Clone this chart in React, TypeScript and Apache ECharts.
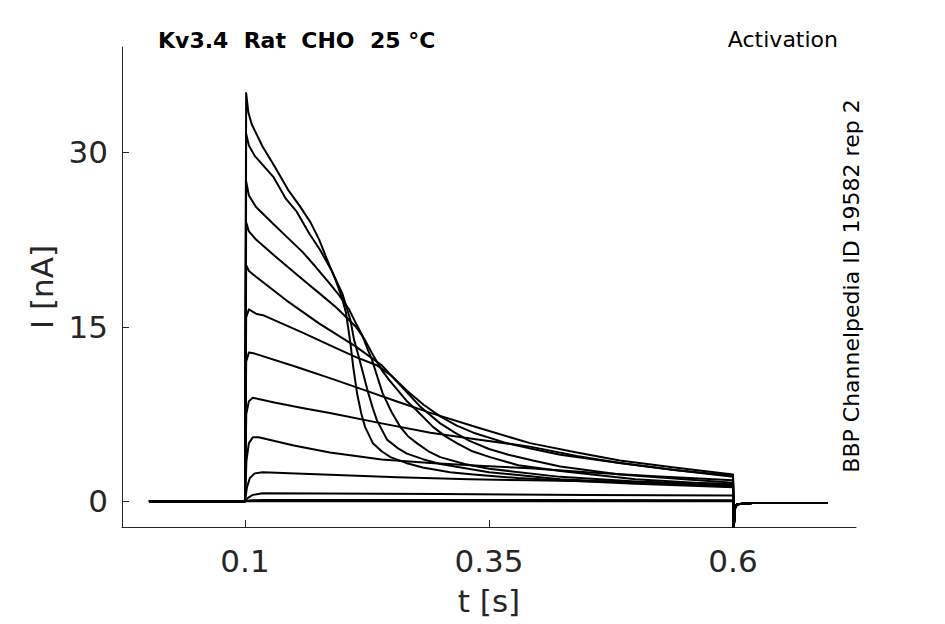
import { useEffect, useRef } from "react";
import * as echarts from "echarts";

type Pt = [number, number];

// t [s], I [nA], largest peak first
const baseline: Pt[] = [[0.0016, 0], [0.1, 0]];
const tailAfterStep: Pt[] = [[0.6008, -2.2], [0.602, -0.6], [0.604, -0.25], [0.62, -0.15], [0.697, -0.15]];

const trace1: Pt[] = [[0.1012, 35.1], [0.1035, 33.4], [0.107, 32.4], [0.118, 30.5], [0.131, 28.7], [0.144, 26.8], [0.156, 25.4], [0.167, 24.0], [0.176, 22.5], [0.184, 20.8], [0.193, 19.0], [0.199, 17.6], [0.2035, 16.2], [0.208, 13.6], [0.211, 11.5], [0.215, 9.2], [0.219, 7.6], [0.223, 6.4], [0.231, 5.0], [0.24, 4.3], [0.249, 3.8], [0.265, 3.3], [0.282, 2.9], [0.31, 2.5], [0.334, 2.3], [0.38, 2.0], [0.423, 1.8], [0.5, 1.5], [0.55, 1.35], [0.6, 1.2]];
const trace2: Pt[] = [[0.1012, 31.6], [0.104, 30.6], [0.11, 29.7], [0.129, 27.9], [0.142, 26.0], [0.153, 24.9], [0.166, 23.0], [0.177, 21.6], [0.189, 19.8], [0.2, 17.8], [0.208, 15.6], [0.2117, 13.9], [0.216, 12.6], [0.221, 11.0], [0.226, 9.4], [0.231, 8.0], [0.235, 7.0], [0.2455, 5.3], [0.256, 4.6], [0.266, 4.1], [0.283, 3.6], [0.3, 3.2], [0.35, 2.5], [0.423, 1.9], [0.5, 1.6], [0.6, 1.3]];
const trace3: Pt[] = [[0.1012, 27.5], [0.104, 26.3], [0.1113, 25.3], [0.1246, 24.2], [0.142, 22.8], [0.1594, 21.4], [0.173, 20.1], [0.186, 18.8], [0.1966, 17.7], [0.2066, 16.5], [0.2137, 15.3], [0.22, 14.3], [0.226, 13.0], [0.23, 12.2], [0.236, 10.6], [0.241, 9.3], [0.25, 7.7], [0.259, 6.4], [0.267, 5.6], [0.276, 5.0], [0.288, 4.3], [0.3, 3.8], [0.325, 3.2], [0.35, 2.8], [0.423, 2.1], [0.5, 1.7], [0.6, 1.35]];
const trace4: Pt[] = [[0.1012, 24.0], [0.104, 23.2], [0.1113, 22.5], [0.1318, 21.0], [0.1594, 19.05], [0.176, 17.9], [0.193, 16.7], [0.2137, 15.0], [0.222, 14.0], [0.231, 12.6], [0.24, 11.3], [0.248, 10.4], [0.256, 9.6], [0.266, 8.6], [0.276, 7.8], [0.2926, 6.4], [0.305, 5.6], [0.317, 5.0], [0.333, 4.3], [0.351, 3.8], [0.38, 3.1], [0.423, 2.6], [0.5, 1.9], [0.6, 1.4]];
const trace5: Pt[] = [[0.1012, 20.3], [0.104, 19.8], [0.1113, 19.3], [0.142, 17.3], [0.1758, 15.3], [0.2137, 13.3], [0.24, 11.7], [0.26, 9.9], [0.28, 8.1], [0.3, 6.7], [0.315, 5.9], [0.33, 5.2], [0.35, 4.5], [0.37, 4.0], [0.395, 3.5], [0.423, 3.0], [0.484, 2.3], [0.55, 1.9], [0.6, 1.6]];
const trace6: Pt[] = [[0.1012, 15.8], [0.104, 16.5], [0.112, 16.1], [0.1184, 16.0], [0.159, 14.5], [0.19, 13.3], [0.2137, 12.4], [0.235, 11.7], [0.25, 10.8], [0.266, 9.5], [0.283, 8.3], [0.3, 7.3], [0.317, 6.5], [0.334, 5.9], [0.368, 5.0], [0.395, 4.5], [0.423, 4.0], [0.484, 3.3], [0.54, 2.7], [0.6, 2.1]];
const trace7: Pt[] = [[0.1012, 12.0], [0.104, 12.8], [0.11, 12.7], [0.153, 11.55], [0.19, 10.5], [0.221, 9.6], [0.255, 8.6], [0.29, 7.6], [0.34, 6.3], [0.392, 5.0], [0.44, 4.2], [0.484, 3.5], [0.54, 2.9], [0.6, 2.3]];
const trace8: Pt[] = [[0.1013, 7.5], [0.104, 8.6], [0.108, 8.9], [0.13, 8.5], [0.16, 8.0], [0.187, 7.6], [0.24, 6.7], [0.29, 5.9], [0.34, 5.3], [0.392, 4.7], [0.44, 3.9], [0.484, 3.3], [0.54, 2.7], [0.6, 2.2]];
const trace9: Pt[] = [[0.1015, 3.5], [0.104, 5.0], [0.108, 5.5], [0.114, 5.5], [0.15, 4.8], [0.187, 4.2], [0.24, 3.6], [0.29, 3.3], [0.34, 3.05], [0.392, 2.85], [0.45, 2.5], [0.52, 2.15], [0.6, 1.8]];
const trace10: Pt[] = [[0.102, 1.2], [0.105, 2.0], [0.11, 2.4], [0.118, 2.5], [0.18, 2.3], [0.256, 2.07], [0.33, 1.9], [0.392, 1.8], [0.5, 1.65], [0.6, 1.5]];
const trace11: Pt[] = [[0.103, 0.3], [0.108, 0.55], [0.118, 0.7], [0.3, 0.62], [0.45, 0.55], [0.6, 0.5]];
const trace12: Pt[] = [[0.105, 0.08], [0.12, 0.12], [0.6, 0.1]];
const trace13: Pt[] = [[0.6, 0]];

const traces = [trace1, trace2, trace3, trace4, trace5, trace6, trace7, trace8, trace9, trace10, trace11, trace12, trace13];

const xTicks = [0.1, 0.35, 0.6];
const yTicks = [0, 15, 30];

const FONT = "DejaVu Sans";
const AXIS_GREY = "#262626";

export default function App() {
  const chartRef = useRef<HTMLDivElement>(null);

  useEffect(() => {
    if (!chartRef.current) return;
    document.body.style.margin = "0";

    const chart = echarts.init(chartRef.current, undefined, { renderer: "svg" });

    const option: echarts.EChartsOption = {
      animation: false,
      backgroundColor: "#ffffff",
      grid: { left: 122, top: 47, right: 89, bottom: 97, containLabel: false },
      xAxis: {
        type: "value",
        min: -0.026,
        max: 0.726,
        name: "t [s]",
        nameLocation: "middle",
        nameGap: 58,
        nameTextStyle: { fontFamily: FONT, fontSize: 31, color: AXIS_GREY },
        axisLine: { show: true, onZero: false, lineStyle: { color: AXIS_GREY, width: 1 } },
        axisTick: { show: true, inside: true, length: 7, customValues: xTicks, lineStyle: { color: AXIS_GREY } },
        axisLabel: {
          customValues: xTicks,
          margin: 18,
          fontFamily: FONT,
          fontSize: 31,
          color: AXIS_GREY,
          formatter: (v: number) => String(v),
        },
        splitLine: { show: false },
      },
      yAxis: {
        type: "value",
        min: -2.21,
        max: 39.06,
        name: "I [nA]",
        nameLocation: "middle",
        nameGap: 62,
        nameTextStyle: { fontFamily: FONT, fontSize: 31, color: AXIS_GREY },
        axisLine: { show: true, onZero: false, lineStyle: { color: AXIS_GREY, width: 1 } },
        axisTick: { show: true, inside: true, length: 7, customValues: yTicks, lineStyle: { color: AXIS_GREY } },
        axisLabel: {
          customValues: yTicks,
          margin: 14,
          fontFamily: FONT,
          fontSize: 31,
          color: AXIS_GREY,
          formatter: (v: number) => String(v),
        },
        splitLine: { show: false },
      },
      graphic: [
        {
          type: "text",
          x: 158,
          y: 40,
          style: {
            text: "Kv3.4  Rat  CHO  25 °C",
            fontFamily: FONT,
            fontSize: 22,
            fontWeight: "bold",
            fill: "#000",
            textAlign: "left",
            textVerticalAlign: "middle",
          },
        },
        {
          type: "text",
          x: 838,
          y: 39,
          style: {
            text: "Activation",
            fontFamily: FONT,
            fontSize: 22,
            fill: "#000",
            textAlign: "right",
            textVerticalAlign: "middle",
          },
        },
        {
          type: "text",
          x: 851,
          y: 286,
          rotation: Math.PI / 2,
          style: {
            text: "BBP Channelpedia ID 19582 rep 2",
            fontFamily: FONT,
            fontSize: 22,
            fill: "#000",
            textAlign: "center",
            textVerticalAlign: "middle",
          },
        },
      ],
      series: traces.map((tr, i) => ({
        name: `trace ${i + 1}`,
        type: "line",
        data: [...baseline, ...tr, ...tailAfterStep],
        showSymbol: false,
        symbol: "none",
        lineStyle: { color: "#000000", width: 2, join: "round" },
        silent: true,
        z: 2,
      })),
    };

    chart.setOption(option);

    return () => {
      chart.dispose();
    };
  }, []);

  return <div ref={chartRef} style={{ width: 945, height: 624 }} />;
}
